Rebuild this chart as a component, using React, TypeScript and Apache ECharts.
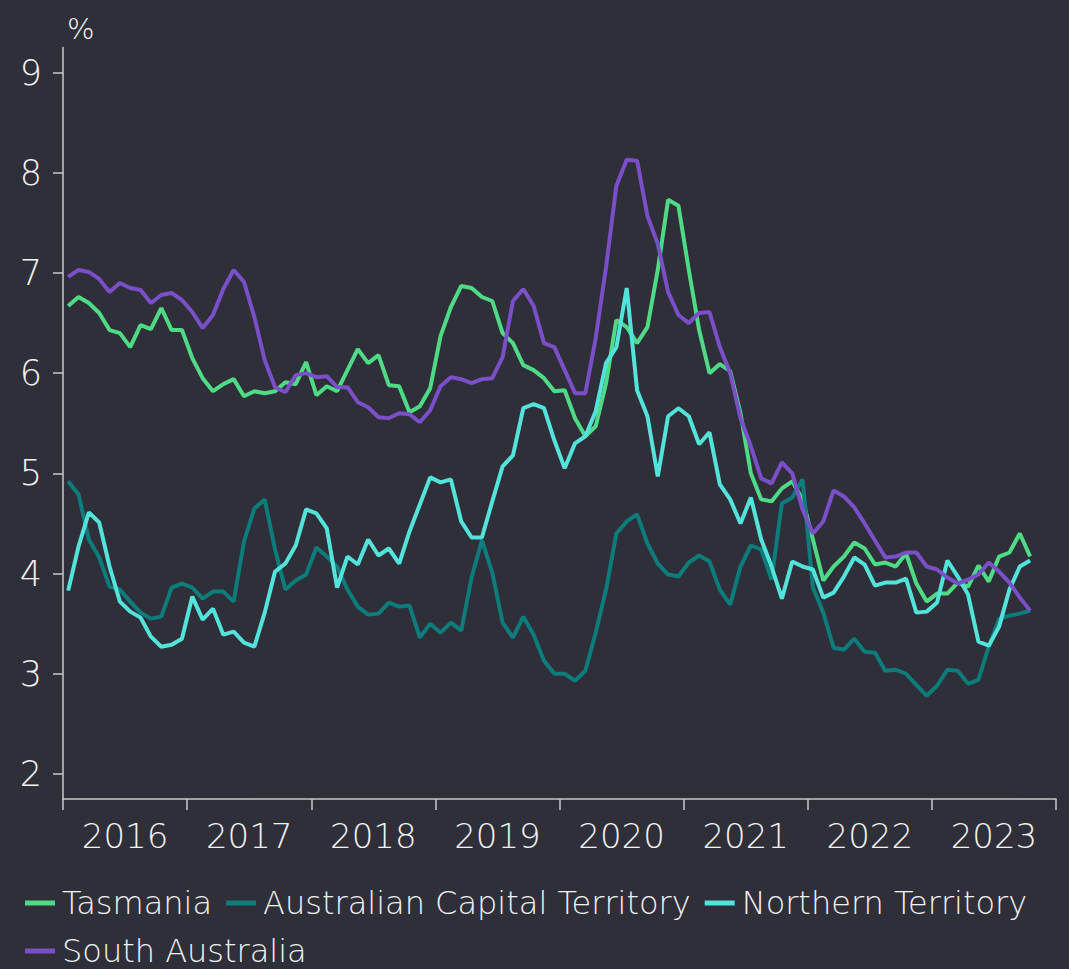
import React, { useEffect, useRef } from "react";
import * as echarts from "echarts";

// Monthly data, Jan 2016 – Oct 2023 (%), plotted at mid-month
const yearLabels = ["2016", "2017", "2018", "2019", "2020", "2021", "2022", "2023"];
const yTicks = [2, 3, 4, 5, 6, 7, 8, 9];

const tasmania = [
  6.67, 6.76, 6.70, 6.60, 6.43, 6.40, 6.26, 6.48, 6.44, 6.65, 6.43, 6.43,
  6.15, 5.95, 5.82, 5.89, 5.94, 5.77, 5.82, 5.80, 5.82, 5.91, 5.89, 6.11,
  5.78, 5.87, 5.82, 6.03, 6.24, 6.10, 6.18, 5.88, 5.87, 5.61, 5.67, 5.85,
  6.37, 6.66, 6.87, 6.85, 6.76, 6.72, 6.40, 6.30, 6.08, 6.03, 5.95, 5.82,
  5.83, 5.55, 5.37, 5.47, 5.90, 6.53, 6.46, 6.30, 6.46, 7.03, 7.73, 7.67,
  7.03, 6.43, 6.00, 6.09, 6.02, 5.60, 5.00, 4.74, 4.72, 4.85, 4.92, 4.74,
  4.34, 3.93, 4.07, 4.17, 4.31, 4.25, 4.09, 4.11, 4.07, 4.20, 3.90, 3.72,
  3.80, 3.80, 3.91, 3.87, 4.08, 3.92, 4.17, 4.21, 4.40, 4.17,
];

const act = [
  4.92, 4.79, 4.34, 4.16, 3.87, 3.84, 3.72, 3.61, 3.55, 3.57, 3.86, 3.90,
  3.86, 3.75, 3.82, 3.82, 3.72, 4.32, 4.65, 4.74, 4.24, 3.84, 3.93, 3.99,
  4.26, 4.17, 4.07, 3.84, 3.67, 3.59, 3.60, 3.71, 3.67, 3.68, 3.36, 3.50,
  3.41, 3.51, 3.43, 3.96, 4.33, 4.01, 3.51, 3.36, 3.57, 3.39, 3.13, 3.00,
  3.00, 2.93, 3.03, 3.41, 3.84, 4.40, 4.52, 4.59, 4.30, 4.10, 3.99, 3.97,
  4.11, 4.18, 4.12, 3.84, 3.69, 4.07, 4.28, 4.24, 3.94, 4.70, 4.76, 4.94,
  3.86, 3.61, 3.26, 3.24, 3.35, 3.22, 3.21, 3.03, 3.04, 3.00, 2.89, 2.78,
  2.88, 3.04, 3.03, 2.90, 2.94, 3.27, 3.55, 3.58, 3.60, 3.63,
];

const northernTerritory = [
  3.83, 4.27, 4.61, 4.51, 4.07, 3.72, 3.62, 3.56, 3.37, 3.27, 3.29, 3.35,
  3.77, 3.54, 3.65, 3.39, 3.42, 3.31, 3.27, 3.61, 4.02, 4.10, 4.28, 4.64,
  4.60, 4.45, 3.86, 4.17, 4.09, 4.34, 4.18, 4.25, 4.10, 4.42, 4.69, 4.96,
  4.91, 4.94, 4.52, 4.36, 4.36, 4.72, 5.07, 5.18, 5.65, 5.69, 5.65, 5.33,
  5.05, 5.30, 5.37, 5.62, 6.10, 6.26, 6.85, 5.83, 5.57, 4.97, 5.57, 5.65,
  5.57, 5.29, 5.41, 4.89, 4.74, 4.50, 4.76, 4.34, 4.07, 3.75, 4.12, 4.07,
  4.04, 3.76, 3.81, 3.97, 4.16, 4.09, 3.88, 3.91, 3.91, 3.95, 3.61, 3.62,
  3.71, 4.13, 3.97, 3.79, 3.32, 3.28, 3.47, 3.84, 4.07, 4.13,
];

const southAustralia = [
  6.96, 7.03, 7.01, 6.94, 6.81, 6.90, 6.85, 6.83, 6.70, 6.78, 6.80, 6.73,
  6.61, 6.45, 6.58, 6.84, 7.03, 6.91, 6.56, 6.13, 5.86, 5.81, 5.98, 6.00,
  5.96, 5.97, 5.86, 5.86, 5.71, 5.66, 5.56, 5.55, 5.60, 5.59, 5.51, 5.63,
  5.87, 5.96, 5.94, 5.90, 5.94, 5.95, 6.16, 6.72, 6.84, 6.67, 6.30, 6.26,
  6.03, 5.80, 5.80, 6.35, 7.06, 7.87, 8.13, 8.12, 7.57, 7.29, 6.81, 6.58,
  6.50, 6.60, 6.61, 6.26, 6.00, 5.55, 5.27, 4.95, 4.90, 5.11, 5.00, 4.64,
  4.40, 4.52, 4.83, 4.77, 4.66, 4.50, 4.33, 4.16, 4.17, 4.21, 4.21, 4.07,
  4.04, 3.96, 3.90, 3.94, 3.99, 4.11, 4.02, 3.91, 3.76, 3.63,
];

const seriesDefs = [
  { name: "Tasmania", data: tasmania, color: "#4fdb85" },
  { name: "Australian Capital Territory", data: act, color: "#0d7c7b" },
  { name: "Northern Territory", data: northernTerritory, color: "#53e3da" },
  { name: "South Australia", data: southAustralia, color: "#7a4fc8" },
];

const FONT = "'DejaVu Sans'";
const TEXT = "#f2f2f2";
const AXIS = "#c9c9cc";

export default function App() {
  const ref = useRef<HTMLDivElement>(null);
  useEffect(() => {
    if (!ref.current) return;
    const chart = echarts.init(ref.current, null, { renderer: "svg" });
    const nYears = yearLabels.length;
    const tickVals = Array.from({ length: nYears + 1 }, (_, i) => i * 12);
    const labelVals = yearLabels.map((_, i) => i * 12 + 6);
    chart.setOption({
      animation: false,
      backgroundColor: "#2e2f39",
      textStyle: { fontFamily: FONT },
      title: {
        text: "%",
        left: 62,
        top: 9,
        textStyle: { color: TEXT, fontSize: 29, fontWeight: 200, fontFamily: FONT },
      },
      grid: { left: 63, right: 13, top: 47.5, bottom: 170, containLabel: false },
      xAxis: {
        type: "value",
        min: 0,
        max: nYears * 12,
        splitLine: { show: false },
        axisLine: { show: true, lineStyle: { color: AXIS, width: 1.5 } },
        axisTick: { show: true, length: 11, customValues: tickVals, lineStyle: { color: AXIS, width: 1.5 } },
        axisLabel: {
          customValues: labelVals,
          formatter: (v: number) => yearLabels[Math.round((v - 6) / 12)] ?? "",
          color: TEXT,
          fontSize: 34,
          fontWeight: 200,
          fontFamily: FONT,
          margin: 20,
        },
      },
      yAxis: {
        type: "value",
        min: 1.75,
        max: 9.25,
        splitLine: { show: false },
        axisLine: { show: true, lineStyle: { color: AXIS, width: 1.5 } },
        axisTick: { show: true, length: 10, customValues: yTicks, lineStyle: { color: AXIS, width: 1.5 } },
        axisLabel: {
          customValues: yTicks,
          color: TEXT,
          fontSize: 35,
          fontWeight: 200,
          fontFamily: FONT,
          margin: 21,
        },
      },
      legend: {
        left: 20,
        top: 881,
        width: 1045,
        itemWidth: 30,
        itemHeight: 5,
        itemGap: 14,
        icon: "rect",
        textStyle: {
          color: TEXT,
          fontSize: 32,
          lineHeight: 34,
          fontWeight: 200,
          fontFamily: FONT,
          padding: [0, 0, 0, 2],
        },
        data: seriesDefs.map((s) => s.name),
      },
      series: seriesDefs.map((s) => ({
        name: s.name,
        type: "line",
        data: s.data.map((v, i) => [i + 0.5, v]),
        showSymbol: false,
        symbol: "none",
        lineStyle: { color: s.color, width: 4 },
        itemStyle: { color: s.color },
      })),
    });
    return () => chart.dispose();
  }, []);
  return <div ref={ref} style={{ width: 1069, height: 969, position: "absolute", left: 0, top: 0 }} />;
}
